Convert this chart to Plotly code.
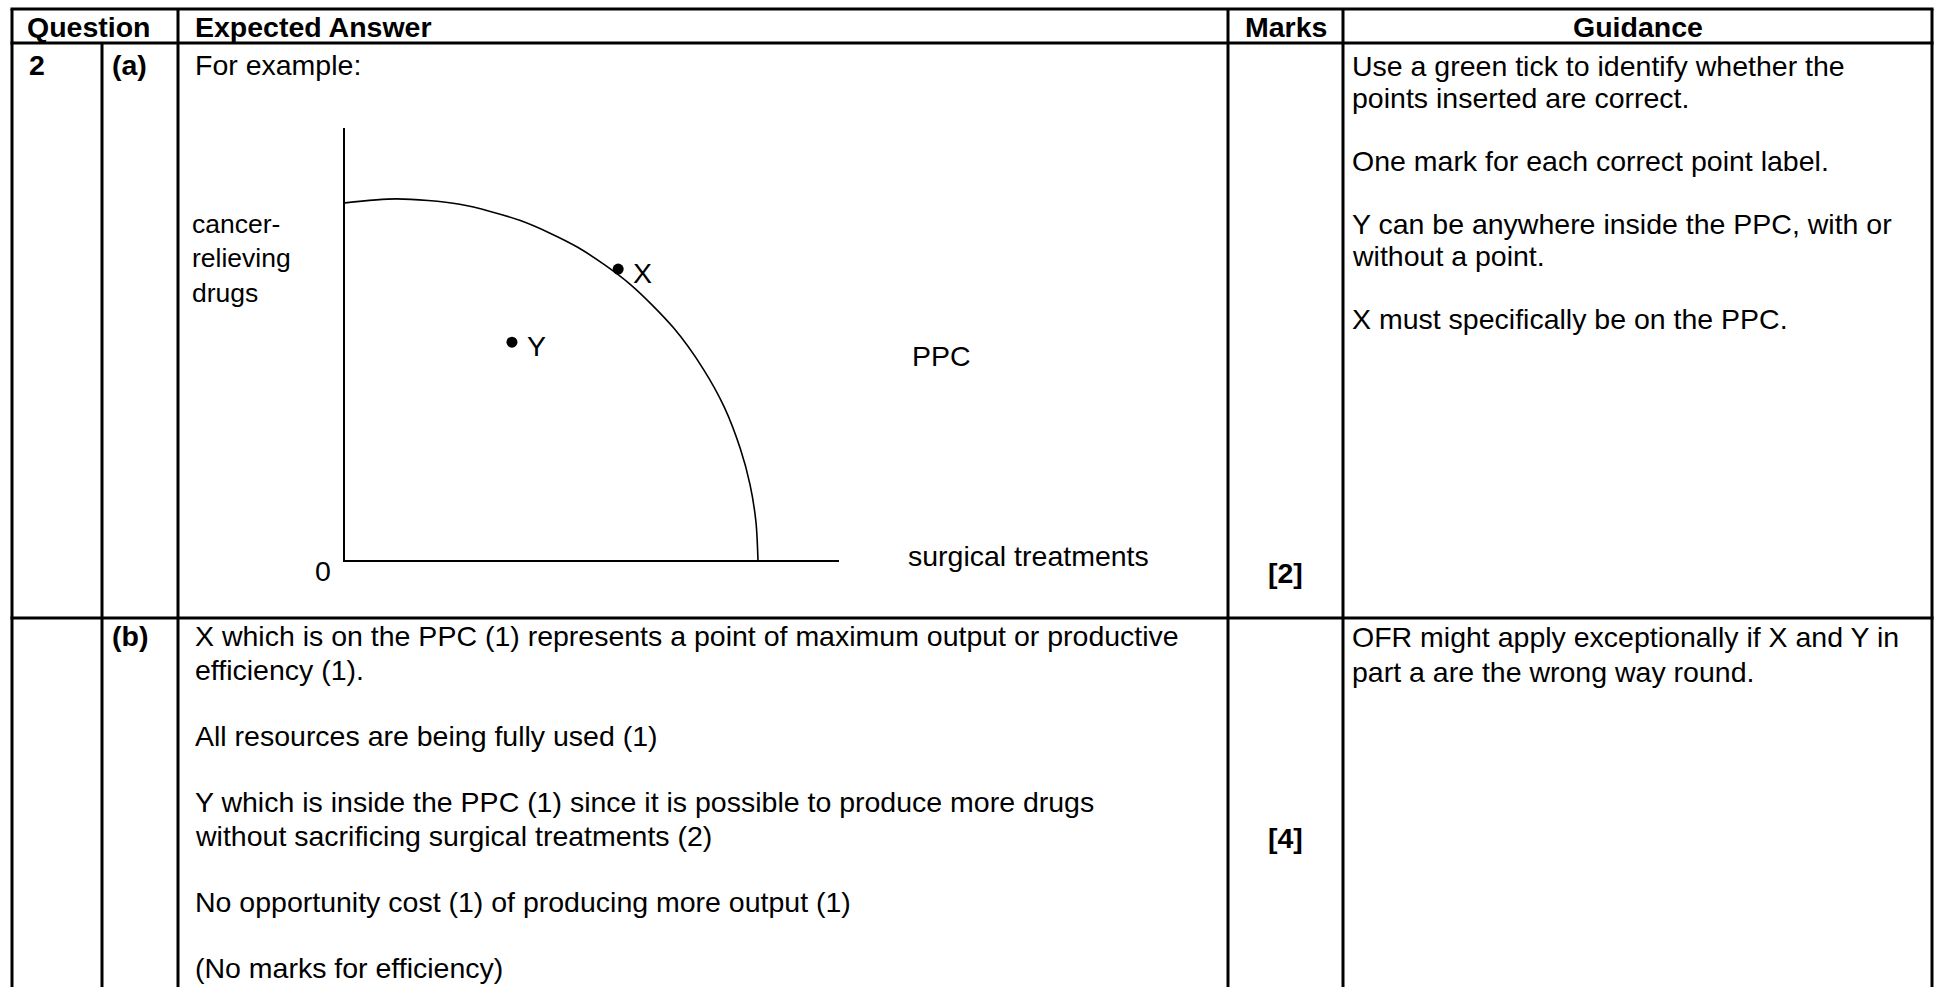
import plotly.graph_objects as go

W, H = 1934, 987
FONT = "Liberation Sans, Arial, Helvetica, sans-serif"
FS = 28.5

# ---------------- content ----------------
header_labels = ["Question", "Expected Answer", "Marks", "Guidance"]
question_number = "2"
part_labels = ["(a)", "(b)"]
marks_labels = ["[2]", "[4]"]
answer_a_intro = "For example:"

guidance_a = [
    "Use a green tick to identify whether the",
    "points inserted are correct.",
    "",
    "One mark for each correct point label.",
    "",
    "Y can be anywhere inside the PPC, with or",
    "without a point.",
    "",
    "X must specifically be on the PPC.",
]

answer_b = [
    "X which is on the PPC (1) represents a point of maximum output or productive",
    "efficiency (1).",
    "",
    "All resources are being fully used (1)",
    "",
    "Y which is inside the PPC (1) since it is possible to produce more drugs",
    "without sacrificing surgical treatments (2)",
    "",
    "No opportunity cost (1) of producing more output (1)",
    "",
    "(No marks for efficiency)",
]

guidance_b = [
    "OFR might apply exceptionally if X and Y in",
    "part a are the wrong way round.",
]

# PPC diagram data (diagram units: surgical treatments axis runs 0-100)
ppc_surgical = [0.0, 10.5, 23.2, 35.5, 47.1, 57.5, 66.5, 72.5, 76.8, 80.0, 82.0, 83.2, 83.6]
ppc_drugs = [72.3, 73.1, 72.0, 68.7, 63.3, 56.0, 47.0, 38.7, 30.9, 22.6, 15.2, 7.6, 0.0]
point_labels = ["X", "Y"]
point_surgical = [55.3, 33.8]
point_drugs = [58.9, 44.1]
y_axis_label = ["cancer-", "relieving", "drugs"]
x_axis_label = "surgical treatments"
curve_label = "PPC"
origin_label = "0"

# ---------------- layout geometry (pixels) ----------------
X_LEFT, X_Q2, X_ANS, X_MARK, X_GUID, X_RIGHT = 12, 102, 178, 1228, 1343, 1932
Y_TOP, Y_HEAD, Y_ROWB = 9, 43, 618

# diagram axes box in pixels
DX0, DX1 = 345, 839
DY_TOP, DY_BOT = 128, 560
X_RANGE = [0, 100]
Y_RANGE = [0, 100 * (DY_BOT - DY_TOP) / (DX1 - DX0)]

fig = go.Figure()

# PPC curve
fig.add_trace(go.Scatter(
    x=ppc_surgical, y=ppc_drugs, mode="lines",
    line=dict(color="black", width=1.6, shape="spline", smoothing=0.8),
    xaxis="x2", yaxis="y2", hoverinfo="skip", showlegend=False, cliponaxis=False))
# points X and Y
fig.add_trace(go.Scatter(
    x=point_surgical, y=point_drugs, mode="markers", marker=dict(color="black", size=11),
    xaxis="x2", yaxis="y2", hoverinfo="skip", showlegend=False, cliponaxis=False))

annotations = []

def txt(x, y, s, anchor="left", bold=False, ref=("x", "y"), xshift=0, yshift=0, size=FS):
    if bold:
        s = "<b>" + s + "</b>"
    annotations.append(dict(
        x=x, y=y, xref=ref[0], yref=ref[1], text=s, showarrow=False,
        xanchor=anchor, yanchor="middle", align="left", xshift=xshift, yshift=yshift,
        font=dict(family=FONT, size=size, color="black")))

def block(lines, x0, y0, pitch, blank):
    """place lines of a paragraph block; empty strings are blank lines"""
    y = y0
    for s in lines:
        if s:
            txt(x0, y, s)
            y += pitch
        else:
            y += blank

# header
HY = (Y_TOP + Y_HEAD) / 2 + 1
txt(25, HY, header_labels[0], bold=True)
txt(193, HY, header_labels[1], bold=True)
txt((X_MARK + X_GUID) / 2, HY, header_labels[2], anchor="center", bold=True)
txt((X_GUID + X_RIGHT) / 2, HY, header_labels[3], anchor="center", bold=True)

# row (a)
RA = 65
txt(27, RA, question_number, bold=True)
txt(110, RA, part_labels[0], bold=True)
txt(193, RA, answer_a_intro)
block(guidance_a, 1350, RA + 1, 32, 31)
txt((X_MARK + X_GUID) / 2, 573, marks_labels[0], anchor="center", bold=True)

# diagram labels
txt(190, 258, "<br>".join(y_axis_label), size=26.5)
txt(906, 556, x_axis_label)
txt(910, 356, curve_label)
txt(323, 571, origin_label, anchor="center")
for lab, px, py in zip(point_labels, point_surgical, point_drugs):
    txt(px, py, lab, ref=("x2", "y2"), xshift=13, yshift=-4)

# row (b)
RB = 636
txt(110, RB, part_labels[1], bold=True)
block(answer_b, 193, RB, 34, 32)
block(guidance_b, 1350, RB + 1, 34.5, 32)
txt((X_MARK + X_GUID) / 2, 838, marks_labels[1], anchor="center", bold=True)

# table grid
shapes = []
def seg(x0, y0, x1, y1, w=3):
    shapes.append(dict(type="line", x0=x0, y0=y0, x1=x1, y1=y1, xref="x", yref="y",
                       line=dict(color="black", width=w)))

for yy in (Y_TOP, Y_HEAD, Y_ROWB):
    seg(X_LEFT - 1.5, yy, X_RIGHT + 1.5, yy)
for xx in (X_LEFT, X_ANS, X_MARK, X_GUID, X_RIGHT):
    seg(xx, Y_TOP, xx, H + 5)
seg(X_Q2, Y_HEAD, X_Q2, H + 5)

fig.update_layout(
    width=W, height=H, margin=dict(l=0, r=0, t=0, b=0),
    paper_bgcolor="white", plot_bgcolor="rgba(0,0,0,0)",
    showlegend=False,
    xaxis=dict(range=[0, W], domain=[0, 1], visible=False, fixedrange=True),
    yaxis=dict(range=[H, 0], domain=[0, 1], visible=False, fixedrange=True),
    xaxis2=dict(range=X_RANGE, domain=[DX0 / W, DX1 / W], anchor="y2",
                showline=True, linecolor="black", linewidth=1.6,
                showgrid=False, zeroline=False, showticklabels=False, ticks="", fixedrange=True),
    yaxis2=dict(range=Y_RANGE, domain=[(H - DY_BOT) / H, (H - DY_TOP) / H], anchor="x2",
                showline=True, linecolor="black", linewidth=1.6,
                showgrid=False, zeroline=False, showticklabels=False, ticks="", fixedrange=True),
    annotations=annotations,
    shapes=shapes,
)

fig.write_html("out.html", config={"displayModeBar": False, "staticPlot": True},
               post_script="document.body.style.margin='0';document.body.style.overflow='hidden';")
